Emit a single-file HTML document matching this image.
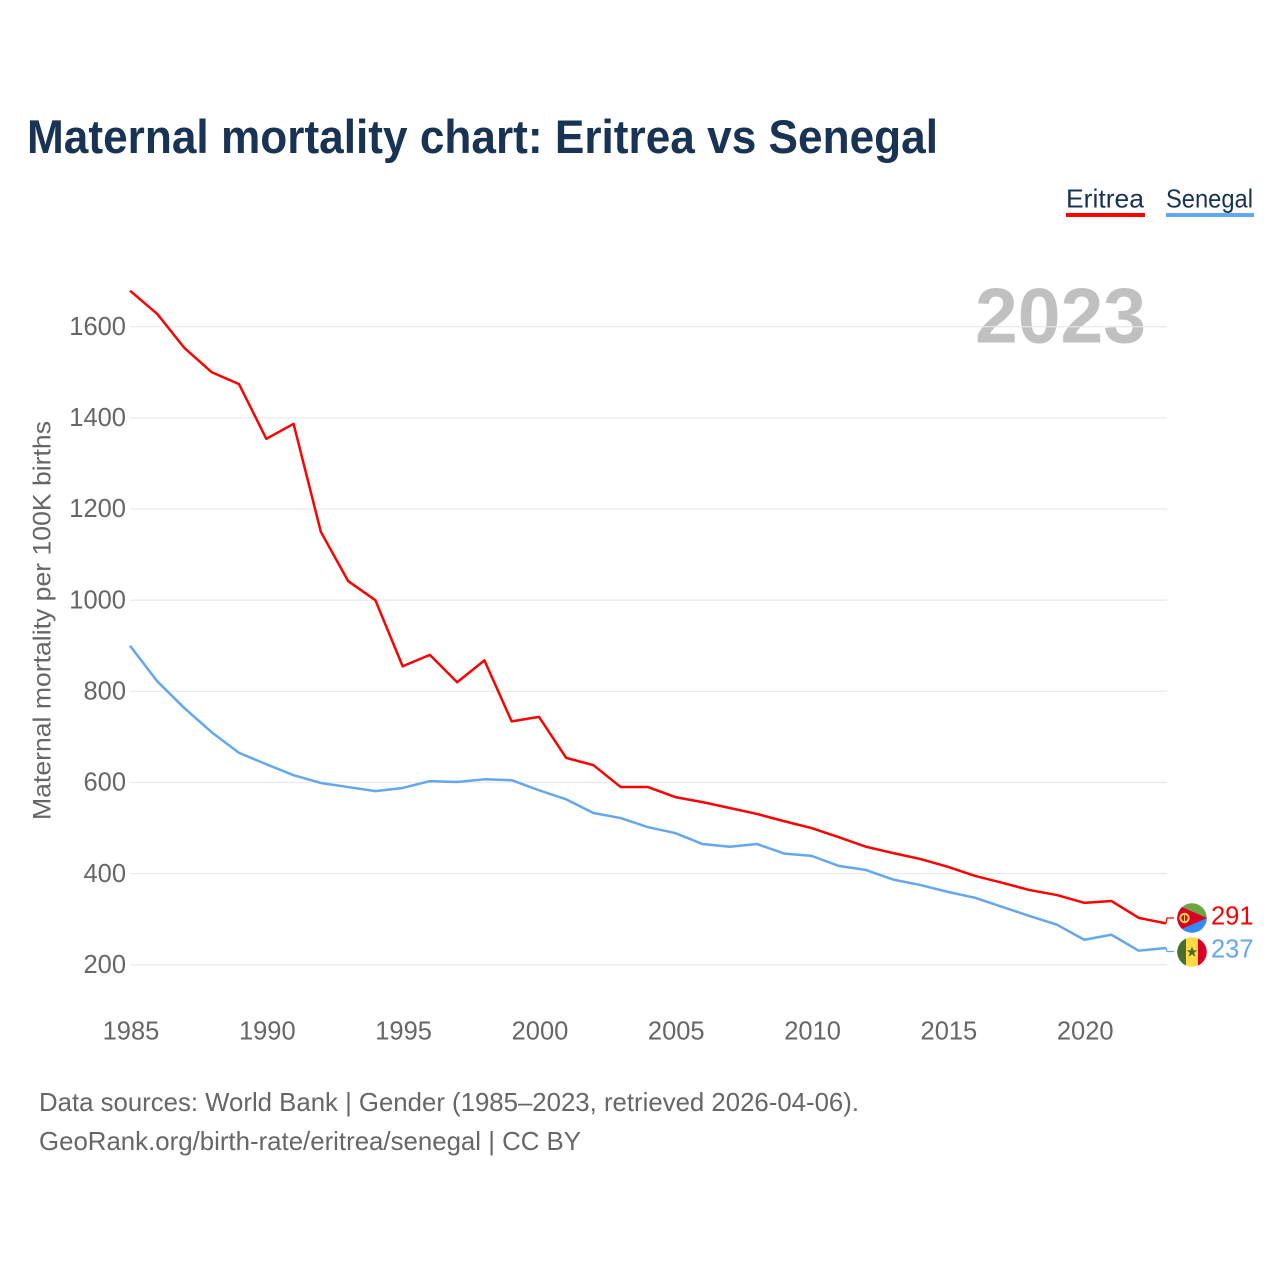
<!DOCTYPE html>
<html lang="en">
<head>
<meta charset="utf-8">
<title>Maternal mortality chart: Eritrea vs Senegal</title>
<style>
html,body{margin:0;padding:0;background:#fff;width:1280px;height:1280px;overflow:hidden}
svg{display:block}
text{font-family:"Liberation Sans",sans-serif}
</style>
</head>
<body>
<svg id="chart" xmlns="http://www.w3.org/2000/svg" width="1280" height="1280" viewBox="0 0 1280 1280">
  <rect width="1280" height="1280" fill="#ffffff"/>
  <text x="27" y="153" font-size="47" font-weight="700" fill="#183354" textLength="911" lengthAdjust="spacingAndGlyphs">Maternal mortality chart: Eritrea vs Senegal</text>

  <g>
    <text x="1066" y="207.5" font-size="26" fill="#183354" textLength="78" lengthAdjust="spacingAndGlyphs">Eritrea</text>
    <rect x="1066" y="213" width="79" height="4" fill="#ff0000"/>
  </g>
  <g>
    <text x="1166" y="207.5" font-size="26" fill="#183354" textLength="87" lengthAdjust="spacingAndGlyphs">Senegal</text>
    <rect x="1166" y="213" width="88" height="4" fill="#63a7ee"/>
  </g>

  <text x="975" y="342.5" font-size="78" font-weight="700" fill="#c0c0c0" textLength="171" lengthAdjust="spacingAndGlyphs">2023</text>

  <g id="grid"></g>
  <g id="y-ticks"></g>
  <g id="x-ticks"></g>

  <text transform="translate(50.5,820) rotate(-90)" font-size="25" fill="#666666" textLength="399" lengthAdjust="spacingAndGlyphs">Maternal mortality per 100K births</text>

  <polyline id="line-eritrea" fill="none" stroke="#ff0000" stroke-width="2.5" stroke-linejoin="round"/>
  <polyline id="line-senegal" fill="none" stroke="#63a7ee" stroke-width="2.5" stroke-linejoin="round"/>
  <polyline id="connector-eritrea" fill="none" stroke="#ff0000" stroke-width="1.3"/>
  <polyline id="connector-senegal" fill="none" stroke="#63a7ee" stroke-width="1.3"/>

  <defs>
    <clipPath id="clip-er"><circle cx="1192" cy="918" r="14.8"/></clipPath>
    <clipPath id="clip-sn"><circle cx="1192" cy="952" r="14.8"/></clipPath>
  </defs>

  <g clip-path="url(#clip-er)">
    <rect x="1177" y="903" width="30" height="15" fill="#6da544"/>
    <rect x="1177" y="918" width="30" height="15" fill="#338af3"/>
    <polygon points="1177,905 1177,931 1207,918" fill="#d80027"/>
    <circle cx="1184.5" cy="918" r="4.2" fill="none" stroke="#ffda44" stroke-width="2"/>
    <rect x="1184" y="915" width="1" height="6" fill="#ffda44"/>
  </g>
  <g clip-path="url(#clip-sn)">
    <rect x="1177" y="937" width="9" height="30" fill="#496e2d"/>
    <rect x="1186" y="937" width="12" height="30" fill="#ffda44"/>
    <rect x="1198" y="937" width="9" height="30" fill="#d80027"/>
    <polygon points="1192,946.5 1193.4,950.3 1197.4,950.3 1194.2,952.8 1195.4,956.7 1192,954.4 1188.6,956.7 1189.8,952.8 1186.6,950.3 1190.6,950.3" fill="#496e2d"/>
  </g>

  <text id="value-eritrea" x="1211" y="924.5" font-size="25.5" fill="#ff0000"></text>
  <text id="value-senegal" x="1211" y="957.5" font-size="25.5" fill="#63a7ee"></text>

  <text x="39" y="1111" font-size="26" fill="#666666" textLength="820" lengthAdjust="spacingAndGlyphs">Data sources: World Bank | Gender (1985–2023, retrieved 2026-04-06).</text>
  <text x="39" y="1150" font-size="26" fill="#666666" textLength="542" lengthAdjust="spacingAndGlyphs">GeoRank.org/birth-rate/eritrea/senegal | CC BY</text>
</svg>
<script>
var years = [1985,1986,1987,1988,1989,1990,1991,1992,1993,1994,1995,1996,1997,1998,1999,2000,2001,2002,2003,2004,2005,2006,2007,2008,2009,2010,2011,2012,2013,2014,2015,2016,2017,2018,2019,2020,2021,2022,2023];
var eritrea = [1679,1628,1553,1500,1474,1354,1387,1150,1042,1000,855,880,820,868,734,744,654,638,590,590,568,557,544,531,515,500,480,459,445,432,415,395,380,364,353,336,340,303,291];
var senegal = [900,822,763,710,665,640,616,599,590,581,588,603,601,607,605,583,563,533,522,502,489,465,459,465,444,439,417,408,387,375,360,347,327,307,288,255,266,231,237];
var yTicks = [200,400,600,800,1000,1200,1400,1600];
var xTicks = [1985,1990,1995,2000,2005,2010,2015,2020];

var SVGNS = 'http://www.w3.org/2000/svg';
function xScale(year){ return 130 + (year - 1985) * (1166 - 130) / (2023 - 1985); }
function yScale(value){ return 326.7 + (1600 - value) * 0.4558; }
function pointsFor(series){
  return series.map(function(v, i){ return xScale(years[i]).toFixed(2) + ',' + yScale(v).toFixed(2); }).join(' ');
}

var gridGroup = document.getElementById('grid');
var yGroup = document.getElementById('y-ticks');
var xGroup = document.getElementById('x-ticks');

yTicks.forEach(function(t){
  var line = document.createElementNS(SVGNS, 'line');
  
  
  line.setAttribute('x1', 130);
  line.setAttribute('x2', 1167);
  line.setAttribute('y1', yScale(t));
  line.setAttribute('y2', yScale(t));
  line.setAttribute('stroke', '#e6e6e6');
  line.setAttribute('stroke-opacity', '0.85');
  line.setAttribute('stroke-width', '1.3');
  gridGroup.appendChild(line);

  var label = document.createElementNS(SVGNS, 'text');
  
  
  label.setAttribute('x', 126);
  label.setAttribute('y', yScale(t) + 8.2);
  label.setAttribute('text-anchor', 'end');
  label.setAttribute('font-size', '25.5');
  label.setAttribute('fill', '#666666');
  label.textContent = t;
  yGroup.appendChild(label);
});

xTicks.forEach(function(t){
  var label = document.createElementNS(SVGNS, 'text');
  
  
  label.setAttribute('x', xScale(t) + 1);
  label.setAttribute('y', 1039.5);
  label.setAttribute('text-anchor', 'middle');
  label.setAttribute('font-size', '25.5');
  label.setAttribute('fill', '#666666');
  label.textContent = t;
  xGroup.appendChild(label);
});

document.getElementById('line-eritrea').setAttribute('points', pointsFor(eritrea));
document.getElementById('line-senegal').setAttribute('points', pointsFor(senegal));

var endX = xScale(years[years.length - 1]);
var lastEr = eritrea[eritrea.length - 1];
var lastSn = senegal[senegal.length - 1];
document.getElementById('connector-eritrea').setAttribute('points',
  endX + ',' + yScale(lastEr) + ' ' + (endX + 1) + ',918 ' + (endX + 8) + ',918');
document.getElementById('connector-senegal').setAttribute('points',
  endX + ',' + yScale(lastSn) + ' ' + (endX + 1) + ',951.5 ' + (endX + 8) + ',951.5');
document.getElementById('value-eritrea').textContent = lastEr;
document.getElementById('value-senegal').textContent = lastSn;
</script>
</body>
</html>
